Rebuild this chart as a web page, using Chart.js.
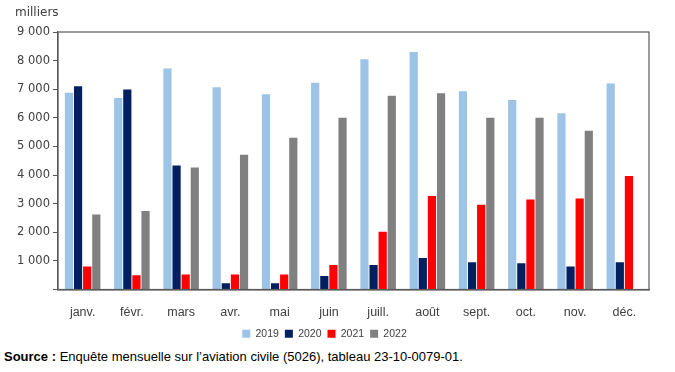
<!DOCTYPE html>
<html lang="fr">
<head>
    <meta charset="UTF-8">
    <title>Passagers aériens par mois</title>
    <script src="https://cdn.jsdelivr.net/npm/chart.js"></script>
    <style>
        body { margin: 0; background: #fff; }
        #wrap { position: relative; width: 675px; height: 372px; }
        #unit { position: absolute; left: 15px; top: 5px; font: 12px "DejaVu Sans", sans-serif; color: #404040; }
        #source { position: absolute; left: 4px; top: 349px; font: 13px "Liberation Sans", sans-serif; color: #000; white-space: nowrap; }
        canvas { position: absolute; left: 0; top: 0; }
    </style>
</head>
<body>
<div id="wrap">
    <canvas id="chart" width="675" height="349"></canvas>
    <div id="unit">milliers</div>
    <div id="source"><b>Source :</b> Enquête mensuelle sur l’aviation civile (5026), tableau 23-10-0079-01.</div>
</div>
<script>
    // données (milliers)
    const months = ['janv.', 'févr.', 'mars', 'avr.', 'mai', 'juin', 'juill.', 'août', 'sept.', 'oct.', 'nov.', 'déc.'];
    const y2019 = [6880, 6690, 7720, 7070, 6820, 7230, 8050, 8300, 6930, 6620, 6160, 7200];
    const y2020 = [7100, 6990, 4330, 220, 220, 470, 860, 1100, 950, 920, 800, 950];
    const y2021 = [800, 500, 520, 520, 520, 860, 2020, 3270, 2960, 3150, 3180, 3970];
    const y2022 = [2620, 2740, 4260, 4710, 5300, 6000, 6770, 6860, 6000, 6000, 5550, null];

    // cadre autour de la zone du graphique
    const frame = {
        id: 'frame',
        afterDatasetsDraw(chart) {
            const a = chart.chartArea;
            const ctx = chart.ctx;
            ctx.save();
            ctx.strokeStyle = '#595959';
            ctx.lineWidth = 1.2;
            ctx.strokeRect(a.left, a.top, a.right - a.left, a.bottom - a.top);
            ctx.restore();
        }
    };

    const fmt = v => String(v).replace(/\B(?=(\d{3})+(?!\d))/g, ' ');

    new Chart(document.getElementById('chart'), {
        type: 'bar',
        data: {
            labels: months,
            datasets: [
                { label: '2019', data: y2019, backgroundColor: '#9DC3E6' },
                { label: '2020', data: y2020, backgroundColor: '#002060' },
                { label: '2021', data: y2021, backgroundColor: '#FF0000' },
                { label: '2022', data: y2022, backgroundColor: '#808080' }
            ]
        },
        options: {
            responsive: false,
            animation: false,
            categoryPercentage: 0.74,
            barPercentage: 0.9,
            layout: { padding: { top: 32, right: 26, left: 0, bottom: 0 } },
            scales: {
                x: {
                    grid: { display: false },
                    border: { color: '#404040', width: 1.5 },
                    ticks: { color: '#404040', padding: 8, font: { family: 'Liberation Sans', size: 12.5 } },
                    afterFit(s) { s.height = 33; }
                },
                y: {
                    min: 0,
                    max: 9000,
                    grid: { drawOnChartArea: false, drawTicks: true, tickLength: 5, color: '#595959' },
                    border: { color: '#595959', width: 1.2 },
                    ticks: {
                        stepSize: 1000,
                        color: '#404040',
                        padding: 3,
                        font: { family: 'DejaVu Sans', size: 11.5 },
                        callback: v => v === 0 ? '' : fmt(v)
                    },
                    afterFit(s) { s.width = 58; }
                }
            },
            plugins: {
                legend: {
                    position: 'bottom',
                    labels: {
                        boxWidth: 8,
                        boxHeight: 8,
                        padding: 6,
                        color: '#404040',
                        font: { family: 'Liberation Sans', size: 10.5 }
                    }
                },
                tooltip: { enabled: false }
            }
        },
        plugins: [frame]
    });
</script>
</body>
</html>
